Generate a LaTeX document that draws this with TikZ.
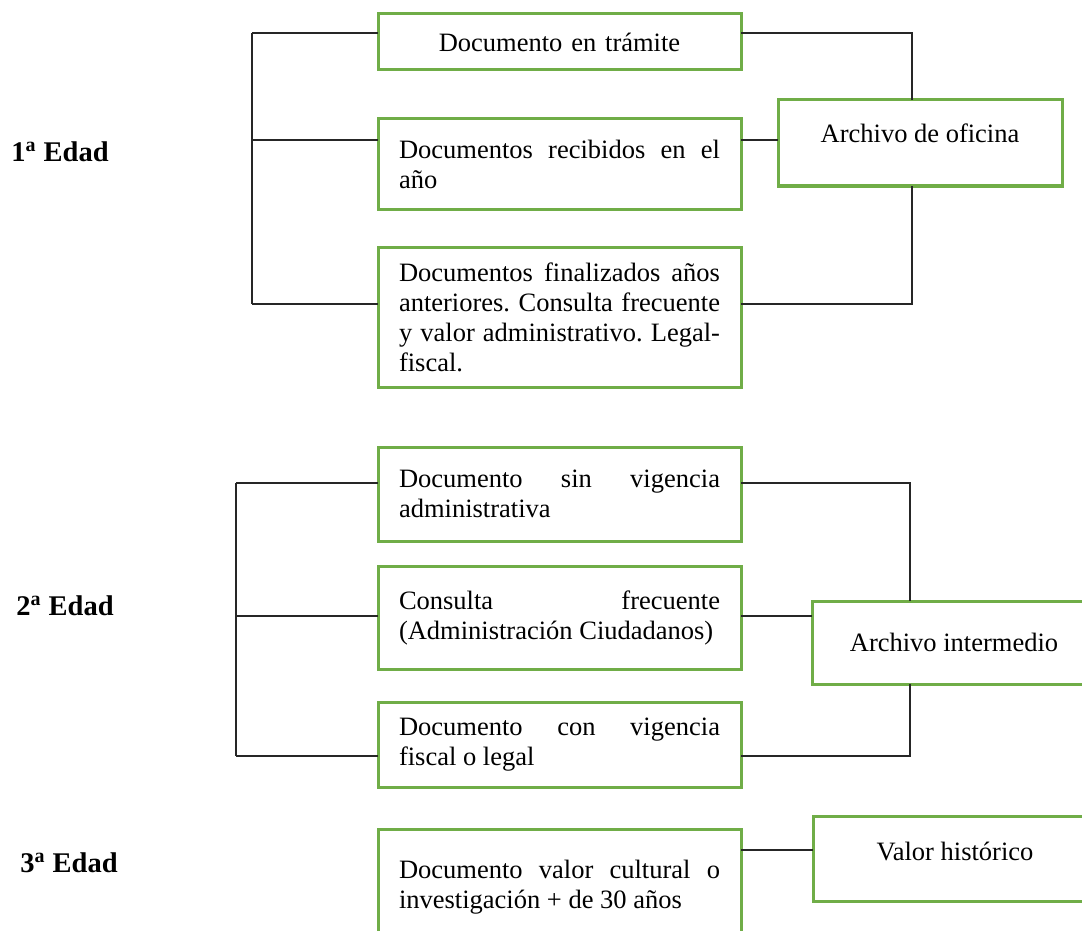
\documentclass[tikz,border=0pt]{standalone}
\usepackage{fontspec}
\setmainfont{Liberation Serif}
\usepackage{tikz}
\usetikzlibrary{positioning,calc}
\definecolor{boxgreen}{RGB}{112,173,71}
\tikzstyle{doc} = [rectangle, draw=boxgreen, line width=1.5pt, outer sep=0pt, text width=160.5pt, inner xsep=10.5pt, inner ysep=3pt, align=justify, font=\fontsize{13.25}{15}\selectfont\frenchspacing]
\tikzstyle{archivo} = [rectangle, draw=boxgreen, line width=1.5pt, outer sep=0pt, minimum width=142pt, align=center, font=\fontsize{13.25}{15}\selectfont]
\tikzstyle{edad} = [font=\fontsize{14.25}{17}\selectfont\bfseries]
\tikzstyle{link} = [draw=black!85, line width=0.8pt]

\begin{document}
\begin{tikzpicture}[x=0.5pt,y=-0.5pt]
	\path[use as bounding box, clip] (0,0) rectangle (1082,931);
	\node (Edad1) [edad] at (60,152) {1\textsuperscript{a} Edad};
	\node (Edad2) [edad] at (65,606) {2\textsuperscript{a} Edad};
	\node (Edad3) [edad] at (69,863) {3\textsuperscript{a} Edad};

	\node (Tramite) [doc, align=center, minimum height=28pt] at (559.5,42) {Documento en trámite};
	\node (Recibidos) [doc, minimum height=45pt, below = 24.5pt of Tramite] {Documentos recibidos en el\linebreak año};
	\node (Finalizados) [doc, minimum height=70pt, below = 19pt of Recibidos] {Documentos finalizados años\linebreak anteriores. Consulta frecuente\linebreak y valor administrativo. Legal-\linebreak fiscal.};
	\node (Oficina) [archivo, minimum height=43pt, text depth=10pt, right = 18.5pt of Recibidos, yshift=10.5pt] {Archivo de oficina};

	\node (SinVigencia) [doc, minimum height=47pt, below = 30pt of Finalizados] {Documento sin vigencia\linebreak administrativa};
	\node (Consulta) [doc, minimum height=51.5pt, below = 12.5pt of SinVigencia] {Consulta frecuente\linebreak (Administración Ciudadanos)};
	\node (ConVigencia) [doc, minimum height=42.5pt, below = 16.5pt of Consulta] {Documento con vigencia\linebreak fiscal o legal};
	\node (Intermedio) [archivo, minimum height=41.5pt, right = 35.5pt of Consulta, yshift=-12.5pt] {Archivo intermedio};

	\node (Cultural) [doc, minimum height=58pt, below = 21pt of ConVigencia] {Documento valor cultural o\linebreak investigación + de 30 años};
	\node (Historico) [archivo, minimum height=42.5pt, text depth=7pt, right = 36pt of Cultural, yshift=14.25pt] {Valor histórico};

	\coordinate (L1a) at (252,33);
	\coordinate (L1b) at (252,140);
	\coordinate (L1c) at (252,304);
	\coordinate (R1a) at (912,33);
	\coordinate (R1c) at (912,304);
	\coordinate (L2a) at (236,483);
	\coordinate (L2b) at (236,616);
	\coordinate (L2c) at (236,756);
	\coordinate (R2a) at (910,483);
	\coordinate (R2c) at (910,756);
	\coordinate (M3) at (760,850);

	\draw[link] (L1a) -- (L1c);
	\draw[link] (L1a) -- (Tramite.west |- L1a);
	\draw[link] (L1b) -- (Recibidos.west |- L1b);
	\draw[link] (L1c) -- (Finalizados.west |- L1c);
	\draw[link] (Tramite.east |- R1a) -- (R1a) -- (R1a |- Oficina.north);
	\draw[link] (Recibidos.east |- L1b) -- (Oficina.west |- L1b);
	\draw[link] (Finalizados.east |- R1c) -- (R1c) -- (R1c |- Oficina.south);

	\draw[link] (L2a) -- (L2c);
	\draw[link] (L2a) -- (SinVigencia.west |- L2a);
	\draw[link] (L2b) -- (Consulta.west |- L2b);
	\draw[link] (L2c) -- (ConVigencia.west |- L2c);
	\draw[link] (SinVigencia.east |- R2a) -- (R2a) -- (R2a |- Intermedio.north);
	\draw[link] (Consulta.east |- L2b) -- (Intermedio.west |- L2b);
	\draw[link] (ConVigencia.east |- R2c) -- (R2c) -- (R2c |- Intermedio.south);

	\draw[link] (Cultural.east |- M3) -- (Historico.west |- M3);
\end{tikzpicture}
\end{document}
